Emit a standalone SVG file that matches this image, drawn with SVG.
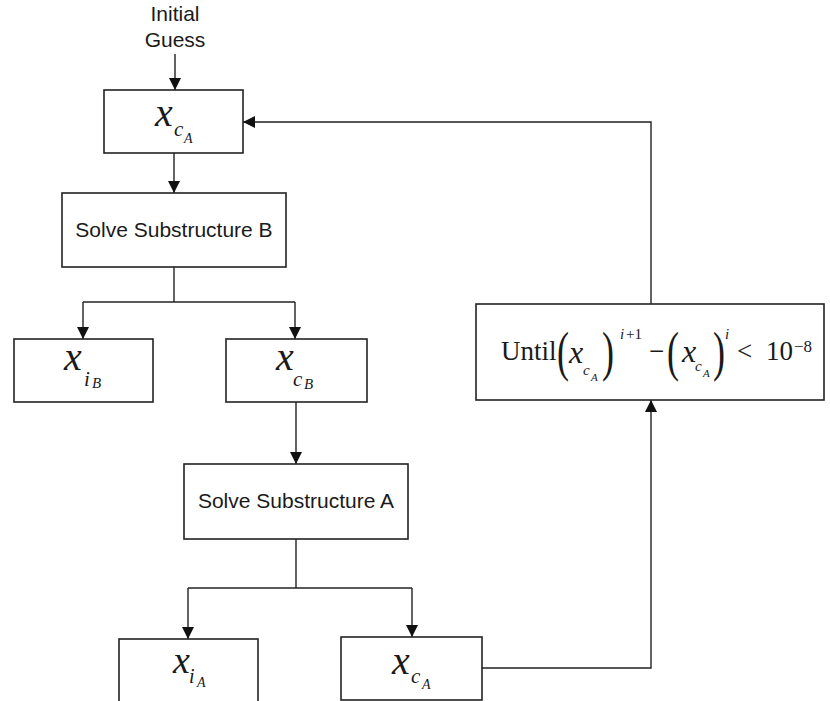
<svg xmlns="http://www.w3.org/2000/svg" width="830" height="701" viewBox="0 0 830 701">
  <style>
    .box { fill: #ffffff; stroke: #222222; stroke-width: 1.6; }
    .wire { fill: none; stroke: #222222; stroke-width: 1.4; }
    .lbl { font-family: "Liberation Sans", Arial, sans-serif; font-size: 21px; fill: #1a1a1a; text-anchor: middle; }
    .mi { font-family: "Liberation Serif", "Times New Roman", serif; font-style: italic; fill: #1a1a1a; }
    .mr { font-family: "Liberation Serif", "Times New Roman", serif; fill: #1a1a1a; }
  </style>
  <defs>
    <marker id="arrow" markerWidth="13" markerHeight="12" refX="12" refY="6" orient="auto" markerUnits="userSpaceOnUse">
      <path d="M0,0 L12,6 L0,12 Z" fill="#111111"/>
    </marker>
  </defs>
  <rect width="830" height="701" fill="#ffffff"/>

  <!-- starting value label -->
  <g id="initial-guess">
    <text class="lbl" x="175" y="21">Initial</text>
    <text class="lbl" x="175" y="47">Guess</text>
  </g>

  <!-- connectors -->
  <g id="connectors">
    <line class="wire" x1="175" y1="54" x2="175" y2="90" marker-end="url(#arrow)"/>
    <line class="wire" x1="174" y1="153" x2="174" y2="193" marker-end="url(#arrow)"/>
    <polyline class="wire" points="174,267 174,302"/>
    <polyline class="wire" points="83,302 295,302"/>
    <line class="wire" x1="83" y1="302" x2="83" y2="339" marker-end="url(#arrow)"/>
    <line class="wire" x1="295" y1="302" x2="295" y2="339" marker-end="url(#arrow)"/>
    <line class="wire" x1="296" y1="402" x2="296" y2="464" marker-end="url(#arrow)"/>
    <polyline class="wire" points="296,539 296,588"/>
    <polyline class="wire" points="188,588 412,588"/>
    <line class="wire" x1="188" y1="588" x2="188" y2="639" marker-end="url(#arrow)"/>
    <line class="wire" x1="412" y1="588" x2="412" y2="637" marker-end="url(#arrow)"/>
    <polyline class="wire" points="482,668 651,668 651,400" marker-end="url(#arrow)"/>
    <polyline class="wire" points="651,304 651,122 243,122" marker-end="url(#arrow)"/>
  </g>

  <!-- x_cA (start of iteration) -->
  <g id="xcA-top">
    <rect class="box" x="104" y="90" width="139" height="63"/>
    <text class="mi" x="155" y="126" font-size="40">x</text>
    <text class="mi" x="174" y="136" font-size="21">c</text>
    <text class="mi" x="184" y="143" font-size="14">A</text>
  </g>

  <g id="solve-b">
    <rect class="box" x="62" y="193" width="224" height="74"/>
    <text class="lbl" x="174" y="237">Solve Substructure B</text>
  </g>

  <g id="xiB">
    <rect class="box" x="14" y="339" width="139" height="63"/>
    <text class="mi" x="64" y="370" font-size="40">x</text>
    <text class="mi" x="84" y="386" font-size="21">i</text>
    <text class="mi" x="92" y="388" font-size="15">B</text>
  </g>

  <g id="xcB">
    <rect class="box" x="226" y="339" width="141" height="63"/>
    <text class="mi" x="276" y="370" font-size="40">x</text>
    <text class="mi" x="293" y="386" font-size="21">c</text>
    <text class="mi" x="304" y="389" font-size="15">B</text>
  </g>

  <g id="solve-a">
    <rect class="box" x="184" y="464" width="224" height="75"/>
    <text class="lbl" x="296" y="508">Solve Substructure A</text>
  </g>

  <g id="xiA">
    <rect class="box" x="119" y="639" width="139" height="66"/>
    <text class="mi" x="173" y="673" font-size="38">x</text>
    <text class="mi" x="189" y="683" font-size="20">i</text>
    <text class="mi" x="197" y="687" font-size="14">A</text>
  </g>

  <g id="xcA-bottom">
    <rect class="box" x="341" y="637" width="141" height="63"/>
    <text class="mi" x="392" y="674" font-size="40">x</text>
    <text class="mi" x="411" y="683" font-size="21">c</text>
    <text class="mi" x="422" y="689" font-size="14">A</text>
  </g>

  <!-- convergence test -->
  <g id="until">
    <rect class="box" x="476" y="304" width="348" height="96"/>
    <text class="mr" x="501" y="360" font-size="27">Until</text>
    <text class="mr" transform="translate(557,370) scale(1,1.5)" font-size="36">(</text>
    <text class="mi" x="569" y="363" font-size="32">x</text>
    <text class="mi" x="583" y="375" font-size="15">c</text>
    <text class="mi" x="591" y="381" font-size="11">A</text>
    <text class="mr" transform="translate(602,370) scale(1,1.5)" font-size="36">)</text>
    <text class="mi" x="620" y="339" font-size="15">i</text>
    <text class="mr" x="626" y="339" font-size="15">+1</text>
    <text class="mr" x="649" y="360" font-size="27">−</text>
    <text class="mr" transform="translate(667,370) scale(1,1.5)" font-size="36">(</text>
    <text class="mi" x="682" y="362" font-size="32">x</text>
    <text class="mi" x="695" y="371" font-size="15">c</text>
    <text class="mi" x="703" y="377" font-size="11">A</text>
    <text class="mr" transform="translate(713,370) scale(1,1.5)" font-size="36">)</text>
    <text class="mi" x="725" y="339" font-size="15">i</text>
    <text class="mr" x="737" y="360" font-size="27">&lt;</text>
    <text class="mr" x="766" y="360" font-size="27">10</text>
    <text class="mr" x="794" y="352" font-size="17">−8</text>
  </g>
</svg>
